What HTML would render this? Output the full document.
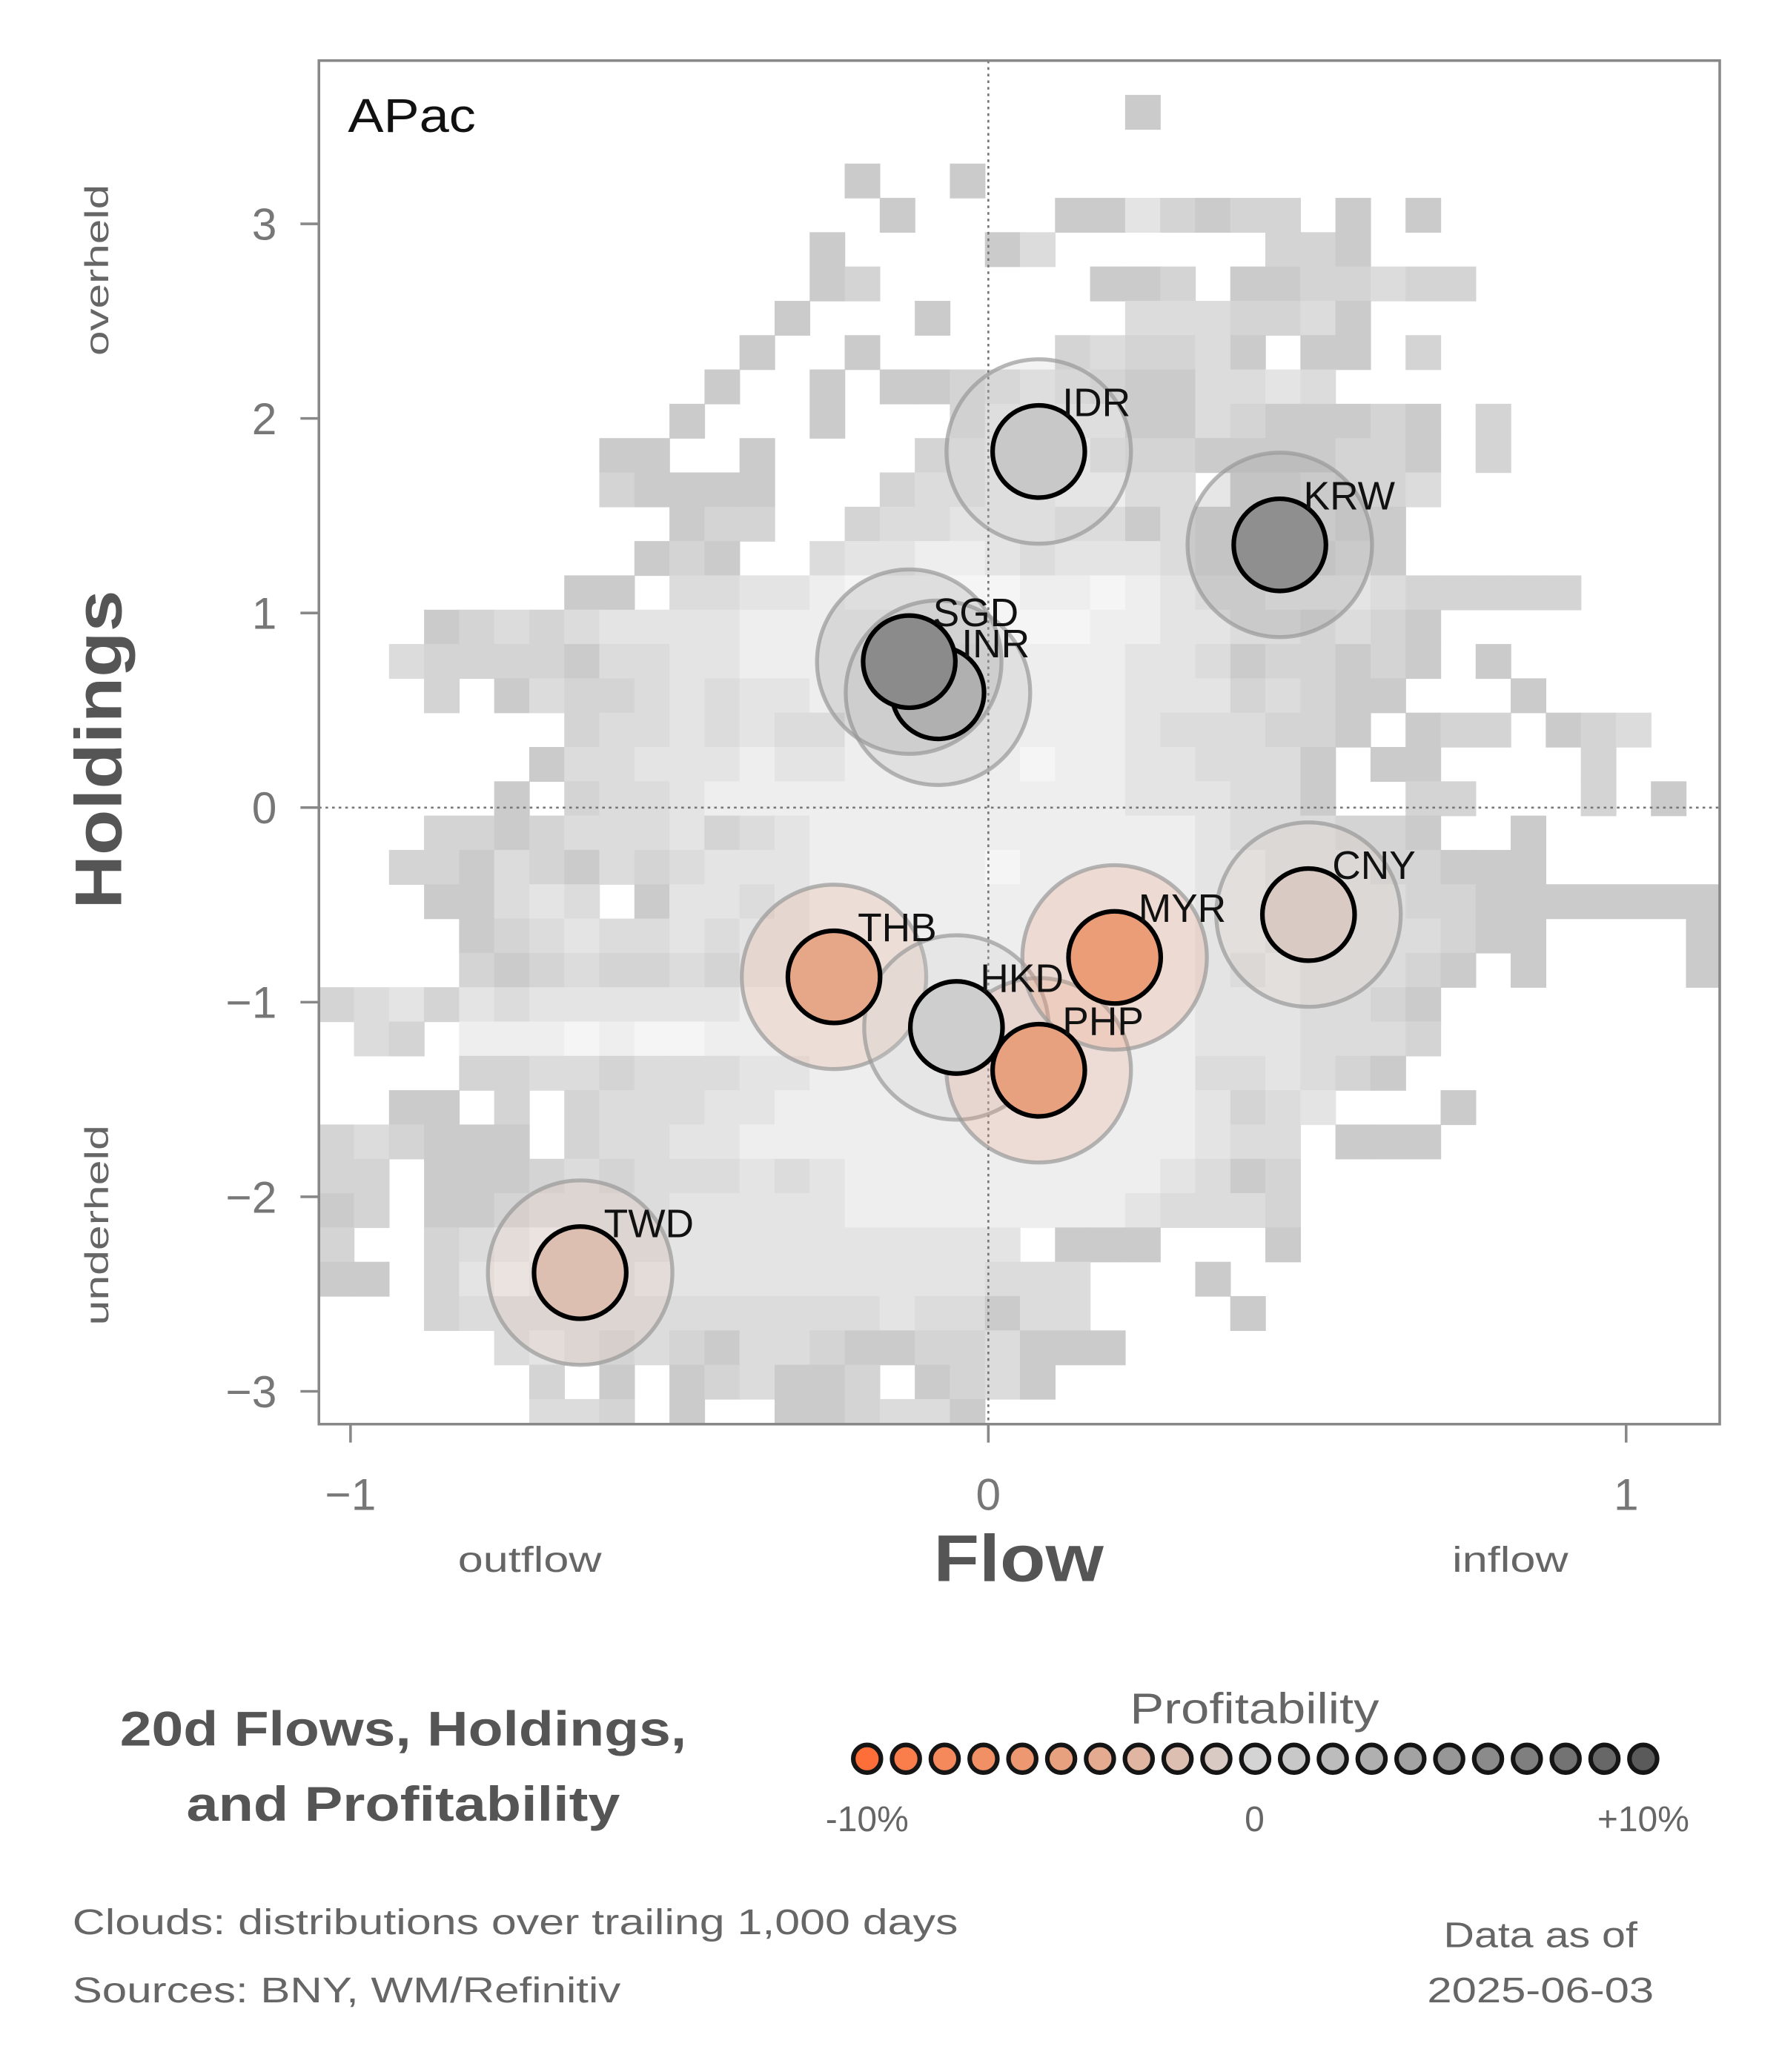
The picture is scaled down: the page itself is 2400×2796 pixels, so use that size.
<!DOCTYPE html>
<html><head><meta charset="utf-8"><style>
html,body{margin:0;padding:0;background:#fff;}
svg{display:block;}
text{font-family:"Liberation Sans",sans-serif;}
</style></head><body>
<svg id="chart" width="2400" height="2796" viewBox="0 0 1350 1572.75" xmlns="http://www.w3.org/2000/svg">
<defs><clipPath id="plotclip"><rect x="242" y="46" width="1063" height="1035"/></clipPath></defs>
<g id="heat" clip-path="url(#plotclip)"></g>
<g id="zero"></g>
<g id="rings" clip-path="url(#plotclip)"></g>
<g id="dots"></g>
<g id="labels"></g>
<rect x="242" y="46" width="1063" height="1035" fill="none" stroke="#888" stroke-width="2"/>
<text x="264" y="100" font-size="36" fill="#111" textLength="97" lengthAdjust="spacingAndGlyphs">APac</text>
<g id="yticks"></g>
<g id="xticks"></g>
<text x="773" y="1200" font-size="50" font-weight="bold" fill="#555" text-anchor="middle" textLength="129" lengthAdjust="spacingAndGlyphs">Flow</text>
<text transform="translate(92,569) rotate(-90)" font-size="50" font-weight="bold" fill="#555" text-anchor="middle" textLength="242" lengthAdjust="spacingAndGlyphs">Holdings</text>
<text transform="translate(82,205) rotate(-90)" font-size="25" fill="#666" text-anchor="middle" textLength="130" lengthAdjust="spacingAndGlyphs">overheld</text>
<text transform="translate(82,930) rotate(-90)" font-size="25" fill="#666" text-anchor="middle" textLength="152" lengthAdjust="spacingAndGlyphs">underheld</text>
<text x="402" y="1193" font-size="27" fill="#666" text-anchor="middle" textLength="109" lengthAdjust="spacingAndGlyphs">outflow</text>
<text x="1146" y="1193" font-size="27" fill="#666" text-anchor="middle" textLength="88" lengthAdjust="spacingAndGlyphs">inflow</text>
<text x="306" y="1325" font-size="37" font-weight="bold" fill="#555" text-anchor="middle" textLength="430" lengthAdjust="spacingAndGlyphs">20d Flows, Holdings,</text>
<text x="306" y="1382" font-size="37" font-weight="bold" fill="#555" text-anchor="middle" textLength="329" lengthAdjust="spacingAndGlyphs">and Profitability</text>
<text x="952" y="1308" font-size="33" fill="#666" text-anchor="middle" textLength="189" lengthAdjust="spacingAndGlyphs">Profitability</text>
<g id="legend"></g>
<text x="658" y="1390" font-size="27" fill="#666" text-anchor="middle">-10%</text>
<text x="952" y="1390" font-size="27" fill="#666" text-anchor="middle">0</text>
<text x="1247" y="1390" font-size="27" fill="#666" text-anchor="middle">+10%</text>
<text x="55" y="1468" font-size="27" fill="#666" textLength="672" lengthAdjust="spacingAndGlyphs">Clouds:  distributions over trailing 1,000 days</text>
<text x="55" y="1520" font-size="27" fill="#666" textLength="416" lengthAdjust="spacingAndGlyphs">Sources:  BNY, WM/Refinitiv</text>
<text x="1169" y="1478" font-size="27" fill="#666" text-anchor="middle" textLength="147" lengthAdjust="spacingAndGlyphs">Data as of</text>
<text x="1169" y="1520" font-size="27" fill="#666" text-anchor="middle" textLength="172" lengthAdjust="spacingAndGlyphs">2025-06-03</text>
</svg>
<script>
const currencies = ["IDR","KRW","INR","SGD","CNY","THB","HKD","PHP","MYR","TWD"];
const flows = [0.079,0.457,-0.079,-0.124,0.502,-0.242,-0.050,0.079,0.198,-0.640];
const holdings = [1.83,1.35,0.59,0.75,-0.55,-0.87,-1.13,-1.35,-0.77,-2.39];
const profits = [1.0,5.7,3.0,6.0,-1.0,-4.5,0.5,-5.0,-5.5,-2.0];
const xTicks = [-1,0,1];
const xTickLabels = ["\u22121","0","1"];
const yTicks = [3,2,1,0,-1,-2,-3];
const yTickLabels = ["3","2","1","0","\u22121","\u22122","\u22123"];
const legendValues = [-10,-9,-8,-7,-6,-5,-4,-3,-2,-1,0,1,2,3,4,5,6,7,8,9,10];
const palette = ["#fe6e38","#f97e4c","#f5895b","#f18f65","#ed9871","#e8a17f","#e4ab91","#e0b5a2","#ddbfb2","#d9cbc3","#d4d4d4","#c8c8c8","#bcbcbc","#b0b0b0","#a3a3a3","#979797","#8b8b8b","#7f7f7f","#737373","#676767","#5a5a5a"];
const heatRows = [
"",
".......................a",
"",
"...............a..a",
"................a....aadbabb.a.a",
"..............a....ac......bba",
"..............ab......aab.aabbcbb",
".............a...a.....cccbbca",
"............a..a.....bcbbca.aa.b",
"...........a..a.aabcdcbaaccdc",
"..........a...a...bddddaacbaaaba.b",
"........aa..a....bcdeecbbaaaabba.b",
"........baaaa...bccddeecc.bbcbbc",
"..........abb..bccdddccacbbbcba",
".........aba..cddeedcdddcbbcbca",
".......aa.ccddefffffeefedccdddcbbbbb",
"...abcbcddddeeeeefffffeeddccbcba",
"..cbbbbaccddeeeeeeeeeeeddcabbaba.a",
"...b.acbbcdcddeeeeeeeeedddbcbaa...a",
".......bccdcdcceeeeeeeedcccbba.abb.abc",
"......accdddeddeeeeefeeddccca.aa....b",
".....a.bccdeeeeeeeeeeeedddcca..bb...b.a",
"...bbabcccdbcdeeeeeeeeeeedcccbba..a",
"..bbacbacbcdddeeeeefeeeeeddcccbbaaa",
"...aacdc.addcdeeeeeeeeeeeddccccbbaaaaaaa",
"....abcdccdcddeeeeeeeeeeeddcccccbaa....a",
"....babcbbcbddeeeeeeeeeeedcdcccba.a....a",
"bcdbdcddddddeeeeeeeeeeeeedddccba",
".cb.eeefeffeeeeeeeeeeeeeedddcccb",
"....bbccbcccddeeeeeeeeeeeccdcba",
"..aa.b.bcccddeeeeeeeeeeeedbcd...a",
"bcbaaa.bccddeeeeeeeeeeeeedcc.aaa",
"bb.aaabcbcccdcdeeeeeeeeedcab",
"ab.aabccccdddddeeeeeeeedcccb",
"b..bcdedccdddddddddd.aaa...a",
"aa.bdedccddddddddddccc...a",
"...bccccccccccccdccacc....a",
".....cdcbcbaccbaabbcaaa",
"......b.a.abcaab.abca",
"......ccb.a..aabcca"
];
const heatLevels = {a:"#cbcbcb",b:"#d4d4d4",c:"#dcdcdc",d:"#e4e4e4",e:"#eeeeee",f:"#f5f5f5"};

const NS="http://www.w3.org/2000/svg";
const X0=242,X1=1305,Y0=46,Y1=1081;
function xScale(v){return 750+484*v;}
function yScale(v){return 613-147.7*v;}
function mk(tag,attrs,parent){const e=document.createElementNS(NS,tag);for(const k in attrs)e.setAttribute(k,attrs[k]);parent.appendChild(e);return e;}
function hex2rgb(h){return [1,3,5].map(i=>parseInt(h.substr(i,2),16));}
function colorFor(p){
  let t=(p+10)/20*(palette.length-1);t=Math.max(0,Math.min(palette.length-1,t));
  const i=Math.min(Math.floor(t),palette.length-2),f=t-i;
  const a=hex2rgb(palette[i]),b=hex2rgb(palette[i+1]);
  return "rgb("+a.map((v,k)=>Math.round(v+(b[k]-v)*f)).join(",")+")";
}
const heat=document.getElementById('heat');
const cw=26.6,ch=26.05;
heatRows.forEach((row,r)=>{
  for(let c=0;c<row.length;c++){
    const ch0=row[c]; if(!heatLevels[ch0]) continue;
    const el=mk('rect',{x:X0+c*cw,y:Y0+r*ch,width:cw+0.4,height:ch+0.4,fill:heatLevels[ch0]},heat);
    
    
  }
});
const zero=document.getElementById('zero');
let zl=mk('line',{x1:xScale(0),x2:xScale(0),y1:Y0,y2:Y1,stroke:"#777","stroke-width":1.5,"stroke-dasharray":"2,3"},zero);


zl=mk('line',{x1:X0,x2:X1,y1:yScale(0),y2:yScale(0),stroke:"#777","stroke-width":1.5,"stroke-dasharray":"2,3"},zero);


const yt=document.getElementById('yticks');
yTicks.forEach((v,i)=>{
  const y=yScale(v);
  const l=mk('line',{x1:228,x2:242,y1:y,y2:y,stroke:"#888","stroke-width":2},yt);
  
  
  const t=mk('text',{x:210,y:y+12,"font-size":34,fill:"#777","text-anchor":"end"},yt);
  t.textContent=yTickLabels[i];
  
  
});
const xt=document.getElementById('xticks');
xTicks.forEach((v,i)=>{
  const x=xScale(v);
  const l=mk('line',{x1:x,x2:x,y1:1081,y2:1095,stroke:"#888","stroke-width":2},xt);
  
  
  const t=mk('text',{x:x,y:1146,"font-size":34,fill:"#777","text-anchor":"middle"},xt);
  t.textContent=xTickLabels[i];
  
  
});
const rings=document.getElementById('rings'),dots=document.getElementById('dots'),labels=document.getElementById('labels');
currencies.forEach((c,i)=>{
  const x=xScale(flows[i]),y=yScale(holdings[i]),col=colorFor(profits[i]);
  const r=mk('circle',{cx:x,cy:y,r:70,fill:col,"fill-opacity":0.22,stroke:"#999","stroke-opacity":0.7,"stroke-width":3},rings);
  
  
});
currencies.forEach((c,i)=>{
  const x=xScale(flows[i]),y=yScale(holdings[i]),col=colorFor(profits[i]);
  const d=mk('circle',{cx:x,cy:y,r:35,fill:col,stroke:"#000","stroke-width":3.5},dots);
  
  
});
currencies.forEach((c,i)=>{
  const x=xScale(flows[i]),y=yScale(holdings[i]);
  const t=mk('text',{x:x+18,y:y-27,"font-size":30,fill:"#111"},labels);
  t.textContent=c;
  
  
});
const lg=document.getElementById('legend');
legendValues.forEach((v,i)=>{
  const x=658+(1247-658)*(v+10)/20;
  const d=mk('circle',{cx:x,cy:1335,r:10.5,fill:colorFor(v),stroke:"#151515","stroke-width":3.5},lg);
  
  
});
</script>
</body></html>
